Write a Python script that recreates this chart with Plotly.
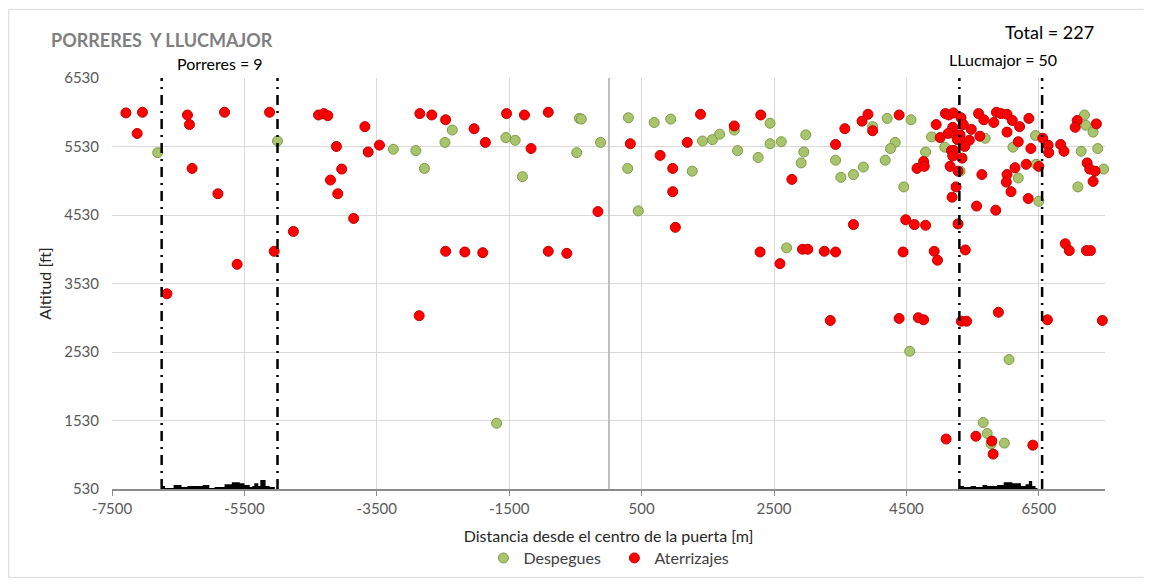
import plotly.graph_objects as go

# Despegues (take-offs): distance from gate centre [m], altitude [ft]
desp_x = [-6810, -5000, -3250, -2910, -2780, -2470, -2360, -1690, -1550, -1410,
          -1300, -480, -440, -410, -120, 300, 290, 450, 690, 940,
          1265, 1420, 1570, 1680, 1900, 1950, 2260, 2440, 2440, 2610,
          2980, 2950, 2910, 2690, 3430, 3510, 3700, 3850, 3990, 4210,
          4570, 4330, 4260, 4180, 4460, 4790, 4880, 5080, 5310, 5690,
          6110, 6190, 6450, 6460, 6500, 7190, 7210, 7320, 7140, 7390,
          7090, 7480, 4550, 6050, 5660, 5720, 5780, 5980]
desp_y = [5440, 5610, 5490, 5470, 5210, 5590, 5770, 1490, 5660, 5620,
          5090, 5440, 5940, 5930, 5590, 5950, 5210, 4590, 5880, 5930,
          5170, 5610, 5630, 5710, 5770, 5470, 5370, 5870, 5570, 5600,
          5700, 5450, 5290, 4050, 5330, 5080, 5120, 5230, 5820, 5940,
          5920, 5590, 5500, 5330, 4940, 5450, 5670, 5520, 5170, 5650,
          5520, 5070, 5690, 5270, 4730, 5990, 5840, 5740, 5460, 5500,
          4940, 5200, 2540, 2420, 1500, 1340, 1190, 1200]

# Aterrizajes (landings)
ater_x = [-7290, -7040, -7120, -6360, -6330, -5800, -6290, -5900, -5610, -5120,
          -5050, -4760, -4380, -4300, -4240, -3680, -4110, -3630, -3460, -4030,
          -4200, -4090, -3850, -2850, -2670, -2460, -2030, -1860, -2460, -2170,
          -1900, -6670, -2860,
          -1540, -1270, -910, -1170, -160, 330, 780, 970, 970, 1010,
          1190, 1390, 1900, 2300, 2770, 3570, 3830, 3920, 3990, 3430,
          3700, -910, -630, 2290, 2590, 2930, 3010, 3260, 3430,
          4390, 4490, 4620, 4790, 4450, 4920, 4970, 4660, 4760, 4770,
          4950, 5010, 5090, 5140, 5210, 5325, 5360, 5480, 5200, 5130,
          5250, 5310, 5330, 5270, 5450, 5380, 5180, 5220, 5200, 5340,
          5160, 5280, 5250, 5190, 5280, 5390, 5560, 5640, 5610, 5590,
          5670, 5820, 5860, 5930, 6020, 6100, 6020, 6210, 6350, 6190,
          6380, 6140, 6310, 6500, 6020, 6010, 6080, 6340, 5850, 6560,
          6640, 6650, 6830, 6880, 7080, 7050, 7370, 7230, 7270, 7350,
          7320, 6900, 6960, 7220, 7280,
          3350, 4390, 4680, 4760, 5330, 5410, 5890, 6630, 7460, 5100,
          5550, 5790, 5810, 6410]
ater_y = [6020, 6030, 5720, 5990, 5850, 6030, 5210, 4840, 3810, 6030,
          4000, 4290, 5990, 6010, 5980, 5820, 5530, 5450, 5550, 5200,
          5040, 4840, 4480, 6010, 5990, 5920, 5790, 5590, 4000, 3990,
          3980, 3380, 3060,
          6010, 5990, 6030, 5500, 4580, 5570, 5400, 5210, 4870, 4350,
          5590, 6000, 5830, 5990, 5050, 5790, 5900, 6000, 5760, 5560,
          4390, 4000, 3970, 3990, 3820, 4030, 4030, 4000, 3990,
          5990, 4460, 4390, 4380, 3990, 4000, 3870, 5210, 5310, 5240,
          5850, 5660, 6010, 5990, 6020, 5950, 5850, 5780, 5810, 5720,
          5690, 5700, 5610, 5630, 5620, 5530, 5470, 5470, 5390, 5360,
          5240, 5170, 4940, 4790, 4400, 4020, 4660, 5120, 5680, 6010,
          5920, 5880, 6030, 6010, 6000, 5910, 5740, 5820, 5940, 5600,
          5500, 5220, 5270, 5240, 5120, 5010, 4870, 4770, 4600, 5650,
          5550, 5440, 5560, 5460, 5910, 5810, 5860, 5290, 5200, 5170,
          5020, 4110, 4010, 4010, 4010,
          2990, 3020, 3030, 3000, 2980, 2980, 3110, 3000, 2990, 1260,
          1300, 1230, 1040, 1170]

# town profiles along the ground
porreres_x = [-6750, -6700, -6570, -6450, -6360, -6210, -6130, -6030, -5950, -5800,
              -5690, -5570, -5500, -5420, -5380, -5350, -5290, -5260, -5180, -5120, -5040]
porreres_alt = [575, 545, 590, 560, 575, 575, 590, 545, 560, 600,
                630, 615, 590, 560, 575, 615, 575, 660, 575, 560, 530]
llucmajor_x = [5300, 5370, 5470, 5550, 5650, 5720, 5870, 5970, 6100, 6230,
               6300, 6350, 6400, 6450, 6480]
llucmajor_alt = [575, 560, 575, 560, 590, 575, 590, 630, 615, 575,
                 600, 645, 575, 545, 530]

limits = [-6750, -5000, 5300, 6550]

x_ticks = [-7500, -5500, -3500, -1500, 500, 2500, 4500, 6500]
y_ticks = [530, 1530, 2530, 3530, 4530, 5530, 6530]

FONT = "Lato"

fig = go.Figure()

for xs, ys in [(porreres_x, porreres_alt), (llucmajor_x, llucmajor_alt)]:
    fig.add_trace(go.Scatter(
        x=xs, y=ys, mode="lines", line=dict(width=0, shape="hv"),
        fill="tozeroy", fillcolor="black", showlegend=False, hoverinfo="skip",
    ))

fig.add_trace(go.Scatter(
    x=desp_x, y=desp_y, mode="markers", name="Despegues", cliponaxis=False,
    marker=dict(size=10, color="#A9C46C", line=dict(color="#7F9A48", width=1)),
))
fig.add_trace(go.Scatter(
    x=ater_x, y=ater_y, mode="markers", name="Aterrizajes", cliponaxis=False,
    marker=dict(size=10, color="#FF0000", line=dict(color="#C00000", width=1)),
))

for xv in limits:
    fig.add_shape(type="line", xref="x", yref="y", x0=xv, x1=xv, y0=530, y1=6530,
                  line=dict(color="black", width=2.5, dash="10px,6px,2px,6px"))

# chart border
fig.add_shape(type="rect", xref="paper", yref="paper", x0=-0.104, x1=1.043,
              y0=-0.215, y1=1.167, line=dict(color="#D9D9D9", width=1), layer="below")

fig.add_annotation(text="<b>PORRERES  Y LLUCMAJOR</b>", xref="paper", yref="paper",
                   x=-0.063, y=1.092, xanchor="left", yanchor="middle", showarrow=False,
                   font=dict(size=18, color="#7F7F7F", family=FONT))
fig.add_annotation(text="Porreres = 9", xref="x", yref="paper", x=-5875, y=1.036,
                   xanchor="center", yanchor="middle", showarrow=False,
                   font=dict(size=16, color="black", family=FONT))
fig.add_annotation(text="LLucmajor = 50", xref="x", yref="paper", x=5955, y=1.046,
                   xanchor="center", yanchor="middle", showarrow=False,
                   font=dict(size=16, color="black", family=FONT))
fig.add_annotation(text="Total = 227", xref="paper", yref="paper", x=0.944, y=1.113,
                   xanchor="center", yanchor="middle", showarrow=False,
                   font=dict(size=18, color="black", family=FONT))

# the page body adds an 8px offset, so the figure is 8px smaller and shifted margins
fig.update_layout(
    width=1143, height=579,
    margin=dict(l=104, r=46, t=70, b=95),
    paper_bgcolor="white", plot_bgcolor="white",
    font=dict(family=FONT, color="#595959"),
    showlegend=True,
    legend=dict(orientation="h", x=0.374, xanchor="left", y=-0.168, yanchor="middle",
                font=dict(size=16, color="#404040"), entrywidth=86),
    xaxis=dict(
        range=[-7500, 7500], tickvals=x_ticks, ticktext=[str(v) for v in x_ticks],
        showgrid=True, gridcolor="#D9D9D9", gridwidth=1,
        zeroline=True, zerolinecolor="#BFBFBF", zerolinewidth=1.5,
        showline=True, linecolor="#8C8C8C", linewidth=1.5,
        ticks="outside", ticklen=5, tickcolor="#8C8C8C",
        tickfont=dict(size=15, color="#595959"),
        title=dict(text="Distancia desde el centro de la puerta [m]",
                   font=dict(size=16, color="#262626"), standoff=15),
    ),
    yaxis=dict(
        range=[530, 6530], tickvals=y_ticks, ticktext=[str(v) for v in y_ticks],
        showgrid=True, gridcolor="#D9D9D9", gridwidth=1,
        zeroline=False, showline=False, ticks="",
        tickfont=dict(size=15, color="#595959"), ticklabelstandoff=12,
        title=dict(text="Altitud [ft]", font=dict(size=16, color="#262626"), standoff=8),
    ),
)

fig.write_html("out.html")
